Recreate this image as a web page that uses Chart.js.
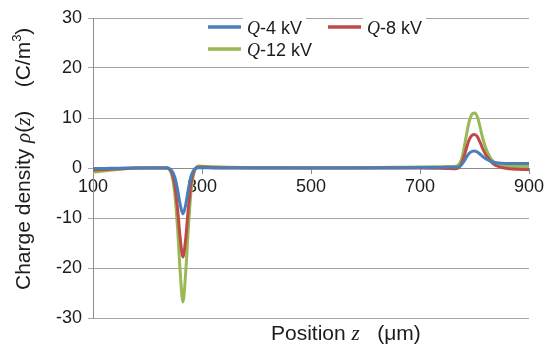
<!DOCTYPE html>
<html>
<head>
<meta charset="utf-8">
<script src="https://cdn.jsdelivr.net/npm/chart.js@4/dist/chart.umd.min.js"></script>
<style>
  html, body { margin: 0; padding: 0; background: #ffffff; }
  #wrap { width: 554px; height: 347px; }
</style>
</head>
<body>
<div id="wrap"><canvas id="chart" width="554" height="347"></canvas></div>
<script>
// Position along the sample (µm)
const zPositions = [
  100, 120, 140, 160, 180, 200, 220,
  235, 240, 245, 250, 255, 260, 265, 270, 275, 280, 285, 290, 295, 300,
  320, 350, 400, 450, 500, 550, 600, 650, 700, 730, 750, 760, 765,
  770, 775, 780, 785, 790, 795, 800, 805, 810, 815, 820, 825, 830, 835, 840,
  850, 860, 870, 880, 890, 900
];

// Charge density ρ(z) in C/m³ for each applied voltage
const rho4kV = [
  -0.1, -0.1, -0.05, 0, 0, 0, 0,
  0, -0.1, -0.6, -1.8, -4.2, -7.3, -9.2, -7.4, -4.2, -1.6, -0.4, 0, 0.05, 0.05,
  0, 0, 0, 0, 0, 0, 0, 0.05, 0.1, 0.1, 0.15, 0.15, 0.15,
  0.2, 0.5, 1.2, 2.1, 2.9, 3.3, 3.4, 3.2, 2.8, 2.3, 1.9, 1.6, 1.35, 1.15, 1.05,
  0.95, 0.9, 0.9, 0.9, 0.9, 0.9
];
const rho8kV = [
  -0.4, -0.3, -0.2, -0.1, 0, 0, 0,
  0, -0.2, -1.0, -3.4, -8.0, -14.0, -17.8, -14.2, -8.0, -3.0, -0.7, 0.1, 0.2, 0.2,
  0.1, 0.05, 0, 0, 0, 0, 0, 0, 0, -0.05, -0.1, -0.15, -0.15,
  0, 0.6, 2.0, 3.9, 5.6, 6.5, 6.7, 6.3, 5.2, 3.9, 2.8, 2.0, 1.3, 0.8, 0.45,
  0.1, -0.1, -0.2, -0.25, -0.3, -0.35
];
const rho12kV = [
  -0.8, -0.6, -0.35, -0.15, 0, 0.05, 0.05,
  0.05, -0.3, -1.6, -5.0, -11.8, -20.8, -26.8, -21.0, -12.0, -4.5, -1.1, 0.2, 0.4, 0.35,
  0.25, 0.15, 0.1, 0.1, 0.05, 0.05, 0.1, 0.15, 0.2, 0.25, 0.3, 0.3, 0.35,
  0.6, 1.4, 3.5, 6.5, 9.2, 10.7, 11.0, 10.3, 8.3, 6.0, 4.2, 2.9, 1.9, 1.3, 0.9,
  0.5, 0.35, 0.3, 0.3, 0.3, 0.3
];

const seriesNames = ['-4 kV', '-8 kV', '-12 kV'];
const seriesColors = ['#4A7EBB', '#BE4B48', '#98B954'];
const xTickValues = [100, 300, 500, 700, 900];
const yTickValues = [-30, -20, -10, 0, 10, 20, 30];

const SANS = '"Liberation Sans", Arial, sans-serif';
const SERIF = '"Liberation Serif", "Times New Roman", serif';
const TEXT = '#1c1c1c';

function toPoints(values) {
  return zPositions.map((z, i) => ({ x: z, y: values[i] }));
}

// Draws a sequence of text runs with different fonts on one baseline
function runWidth(ctx, runs) {
  let w = 0;
  for (const r of runs) { ctx.font = r.font; w += ctx.measureText(r.text).width; }
  return w;
}
function drawRuns(ctx, runs, x, y) {
  let cx = x;
  for (const r of runs) {
    ctx.font = r.font;
    ctx.fillText(r.text, cx, y + (r.dy || 0));
    cx += ctx.measureText(r.text).width;
  }
  return cx;
}

const annotations = {
  id: 'annotations',
  afterDraw(chart) {
    const ctx = chart.ctx;
    ctx.save();
    ctx.fillStyle = TEXT;
    ctx.textBaseline = 'alphabetic';
    ctx.textAlign = 'left';

    // x-axis title
    drawRuns(ctx, [
      { text: 'Position ', font: '21px ' + SANS },
      { text: 'z', font: 'italic 21px ' + SERIF },
      { text: '   (\u03BCm)', font: '21px ' + SANS }
    ], 271, 340);

    // y-axis title, rotated
    ctx.save();
    ctx.translate(30, 290);
    ctx.rotate(-Math.PI / 2);
    drawRuns(ctx, [
      { text: 'Charge density ', font: '21px ' + SANS },
      { text: '\u03C1', font: 'italic 21px ' + SERIF },
      { text: '(', font: '21px ' + SANS },
      { text: 'z', font: 'italic 21px ' + SERIF },
      { text: ')    (C/m', font: '21px ' + SANS },
      { text: '3', font: '13px ' + SANS, dy: -9 },
      { text: ')', font: '21px ' + SANS }
    ], 0, 0);
    ctx.restore();

    // legend
    const slots = [
      { x: 208, y: 27 },
      { x: 328, y: 27 },
      { x: 208, y: 49 }
    ];
    chart.data.datasets.forEach((ds, i) => {
      const s = slots[i];
      ctx.strokeStyle = ds.borderColor;
      ctx.lineWidth = 3.5;
      ctx.lineCap = 'butt';
      ctx.beginPath();
      ctx.moveTo(s.x, s.y);
      ctx.lineTo(s.x + 33, s.y);
      ctx.stroke();
      const runs = [
        { text: 'Q', font: 'italic 18px ' + SERIF },
        { text: seriesNames[i], font: '18px ' + SANS }
      ];
      const tx = s.x + 39;
      const w = runWidth(ctx, runs);
      ctx.fillStyle = '#ffffff';
      ctx.fillRect(tx - 4, s.y - 11, w + 8, 22);
      ctx.fillStyle = TEXT;
      drawRuns(ctx, runs, tx, s.y + 6.5);
    });
    ctx.restore();
  }
};

new Chart(document.getElementById('chart'), {
  type: 'line',
  data: {
    datasets: [
      { label: 'Q' + seriesNames[0], data: toPoints(rho4kV), borderColor: seriesColors[0] },
      { label: 'Q' + seriesNames[1], data: toPoints(rho8kV), borderColor: seriesColors[1] },
      { label: 'Q' + seriesNames[2], data: toPoints(rho12kV), borderColor: seriesColors[2] }
    ]
  },
  options: {
    responsive: false,
    animation: false,
    devicePixelRatio: 1,
    layout: { padding: { top: 18, right: 25, bottom: 29, left: 0 } },
    elements: {
      point: { radius: 0 },
      line: { borderWidth: 3, cubicInterpolationMode: 'monotone', fill: false }
    },
    plugins: { legend: { display: false }, tooltip: { enabled: false } },
    scales: {
      x: {
        type: 'linear',
        min: 100,
        max: 900,
        position: { y: 0 },
        afterBuildTicks(scale) { scale.ticks = xTickValues.map(v => ({ value: v })); },
        grid: { drawOnChartArea: false, drawTicks: true, tickLength: 5, color: '#8c8c8c' },
        border: { display: true, color: '#8c8c8c', width: 1 },
        ticks: { font: { family: SANS, size: 18 }, color: TEXT, padding: 3, maxRotation: 0, autoSkip: false }
      },
      y: {
        type: 'linear',
        min: -30,
        max: 30,
        afterBuildTicks(scale) { scale.ticks = yTickValues.map(v => ({ value: v })); },
        afterFit(scale) { scale.width = 93; },
        grid: { color: '#a6a6a6', drawTicks: true, tickLength: 5 },
        border: { display: true, color: '#8c8c8c', width: 1 },
        ticks: { font: { family: SANS, size: 18 }, color: TEXT, padding: 6 }
      }
    }
  },
  plugins: [annotations]
});
</script>
</body>
</html>
